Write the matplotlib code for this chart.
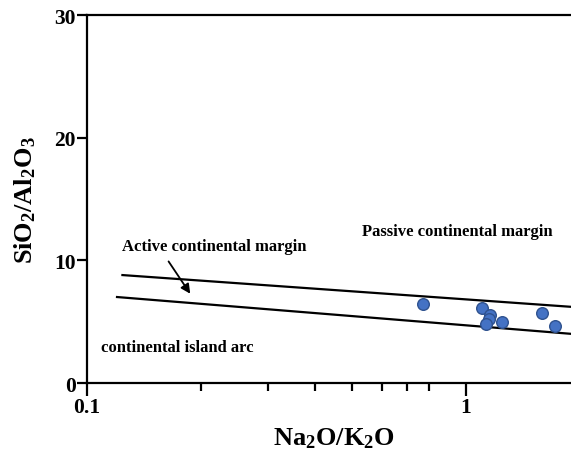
import matplotlib
matplotlib.use("Agg")
import matplotlib.pyplot as plt
from matplotlib.ticker import FixedLocator, NullFormatter

plt.rcParams['font.family'] = ['Liberation Serif', 'DejaVu Serif']
plt.rcParams['font.weight'] = 'bold'
plt.rcParams['mathtext.default'] = 'regular'

# 样品数据 Na2O/K2O , SiO2/Al2O3
na2o_k2o = [0.772, 1.10, 1.157, 1.152, 1.129, 1.247, 1.587, 1.72]
sio2_al2o3 = [6.44, 6.09, 5.57, 5.19, 4.83, 4.95, 5.70, 4.65]

# 分界线端点
upper_x = [0.124, 2.0]
upper_y = [8.80, 6.16]
lower_x = [0.120, 2.0]
lower_y = [7.01, 3.95]

x_ticks = [0.1, 1]
x_minor = [0.2, 0.3, 0.4, 0.5, 0.6, 0.7, 0.8]
y_ticks = [0, 10, 20, 30]

fig = plt.figure(figsize=(5.71, 4.52), dpi=100)
ax = fig.add_axes([0.1524, 0.1504, 0.8634, 0.8142])

ax.plot(upper_x, upper_y, color='black', lw=1.6)
ax.plot(lower_x, lower_y, color='black', lw=1.6)
ax.scatter(na2o_k2o, sio2_al2o3, s=70, color='#4472C4', edgecolor='#2F528F',
           linewidth=1.0, zorder=3)

ax.set_xscale('log')
ax.set_xlim(0.1, 2.0)
ax.set_ylim(0, 30)

ax.xaxis.set_major_locator(FixedLocator(x_ticks))
ax.xaxis.set_minor_locator(FixedLocator(x_minor))
ax.xaxis.set_minor_formatter(NullFormatter())
ax.set_xticklabels(['0.1', '1'])
ax.set_yticks(y_ticks)

for s in ['left', 'bottom', 'top']:
    ax.spines[s].set_linewidth(1.6)
ax.spines['right'].set_visible(False)

ax.tick_params(axis='both', which='major', direction='out', width=1.6,
               length=7, labelsize=15.5, pad=1)
ax.tick_params(axis='x', which='minor', direction='out', width=1.6, length=6)
ax.tick_params(axis='x', which='major', length=9)
for lab in ax.get_xticklabels() + ax.get_yticklabels():
    lab.set_fontweight('bold')

ax.set_xlabel('Na$_2$O/K$_2$O', fontsize=19, fontweight='bold', labelpad=6)
ax.set_ylabel('SiO$_2$/Al$_2$O$_3$', fontsize=19, fontweight='bold', labelpad=12)

ax.text(0.124, 11.2, 'Active continental margin', fontsize=12,
        fontweight='bold', va='center', ha='left')
ax.text(0.532, 12.4, 'Passive continental margin', fontsize=12,
        fontweight='bold', va='center', ha='left')
ax.text(0.109, 2.93, 'continental island arc', fontsize=12,
        fontweight='bold', va='center', ha='left')
ax.annotate('', xy=(0.189, 7.09), xytext=(0.1626, 10.1),
            arrowprops=dict(arrowstyle='-|>', color='black', lw=1.3,
                            mutation_scale=14))

fig.savefig('out.png', dpi=100)
